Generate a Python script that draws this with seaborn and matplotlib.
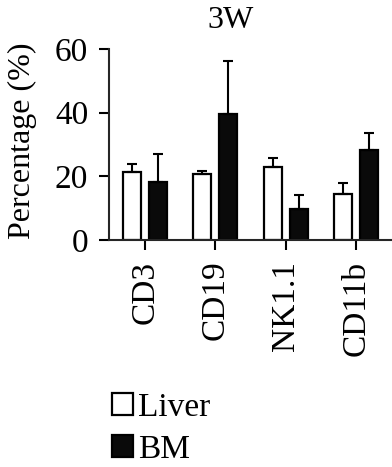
import matplotlib
matplotlib.use("Agg")
import matplotlib.pyplot as plt
import pandas as pd
import seaborn as sns

markers = ["CD3", "CD19", "NK1.1", "CD11b"]
groups = ["Liver", "BM"]
liver_mean = [21.5, 20.8, 22.9, 14.5]
liver_err = [2.4, 0.8, 3.0, 3.4]
bm_mean = [18.2, 39.6, 9.9, 28.3]
bm_err = [8.8, 16.7, 4.1, 5.3]

sns.set_theme(style="ticks")
plt.rcParams["font.family"] = ["Liberation Serif", "DejaVu Serif"]
plt.rcParams["axes.linewidth"] = 1.5
plt.rcParams["text.color"] = "black"
plt.rcParams["axes.labelcolor"] = "black"

df = pd.DataFrame({
    "marker": markers * 2,
    "group": ["Liver"] * 4 + ["BM"] * 4,
    "value": liver_mean + bm_mean,
})

fig = plt.figure(figsize=(3.92, 4.67), dpi=100)
ax = fig.add_axes([0.278, 0.486, 0.722, 0.409])

sns.barplot(
    data=df, x="marker", y="value", hue="group", order=markers, hue_order=groups,
    palette={"Liver": "white", "BM": "#0a0a0a"}, width=0.74, gap=0.3,
    edgecolor="black", linewidth=1.6, errorbar=None, ax=ax,
)

# upper-only error bars placed on the bar centres
errs = {"Liver": liver_err, "BM": bm_err}
for container, g in zip(ax.containers, groups):
    xs = [p.get_x() + p.get_width() / 2 for p in container]
    ys = [p.get_height() for p in container]
    ax.errorbar(xs, ys, yerr=[[0] * len(ys), errs[g]], fmt="none",
                ecolor="black", elinewidth=1.5, capsize=3.5, capthick=1.5, zorder=1)

ax.set_ylim(0, 60)
ax.set_yticks([0, 20, 40, 60])
ax.set_xlim(-0.51, 3.51)
ax.set_xlabel("")
ax.set_ylabel("Percentage (%)", fontsize=23, color="black")
ax.yaxis.set_label_coords(-0.255, 0.518)
ax.set_title("3W", fontsize=23, x=0.43, pad=15, color="black")
ax.tick_params(axis="both", labelsize=24, length=7, width=1.5, colors="black", pad=8)
ax.tick_params(axis="x", labelrotation=90)
sns.despine(ax=ax)

ax.get_legend().remove()
handles, labels = ax.get_legend_handles_labels()
fig.legend(handles[:2], labels[:2], loc="upper left", bbox_to_anchor=(0.285, 0.16),
           frameon=False, fontsize=24, handlelength=0.65, handleheight=0.65,
           handletextpad=0.15, labelspacing=0.35, borderpad=0, borderaxespad=0,
           labelcolor="black")

fig.savefig("out.png", dpi=100)
